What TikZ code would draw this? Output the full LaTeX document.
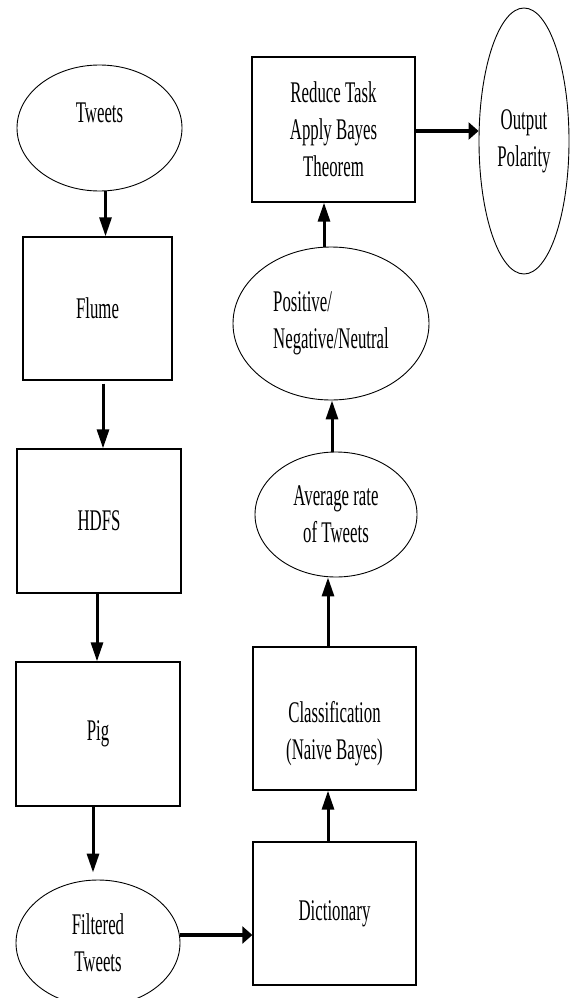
\documentclass[tikz,border=0pt]{standalone}
\usepackage{fontspec}
\setmainfont{Liberation Serif}[FakeStretch=0.56]
\usetikzlibrary{shapes.geometric,arrows.meta}
\begin{document}
\begin{tikzpicture}[x=1pt,y=-1pt,
  every node/.style={font=\fontsize{30}{37}\selectfont, inner sep=0pt, align=center},
  boxnode/.style={draw, line width=1.3pt, rectangle},
  ellnode/.style={draw, line width=0.9pt, ellipse},
  varrow/.style={line width=3pt, -{Triangle[length=19pt,width=12pt]}},
  harrow/.style={line width=4.5pt, -{Triangle[length=10pt,width=17pt]}}]
\useasboundingbox (0,0) rectangle (574,998);
\node[ellnode, minimum width=165pt, minimum height=126pt,
      label={[yshift=15pt]center:Tweets}] (tweets) at (99.5,128) {};
\node[boxnode, minimum width=149pt, minimum height=143pt] (flume) at (97.5,308.5) {Flume};
\node[boxnode, minimum width=164pt, minimum height=144pt] (hdfs) at (99,521) {HDFS};
\node[boxnode, minimum width=164pt, minimum height=144pt] (pig) at (98,734) {Pig};
\node[ellnode, minimum width=164pt, minimum height=126pt] (filtered) at (98,943) {Filtered\\Tweets};
\node[boxnode, minimum width=163pt, minimum height=143pt] (dict) at (334.5,913.5) {Dictionary};
\node[boxnode, minimum width=163pt, minimum height=143pt,
      label={[yshift=-15pt]center:Classification\\(Naive Bayes)}] (class) at (334.5,718.5) {};
\node[ellnode, minimum width=162pt, minimum height=125pt] (average) at (336,514.5) {Average rate\\of Tweets};
\node[ellnode, minimum width=196pt, minimum height=153pt, align=left] (positive) at (331,323.5) {Positive/\\Negative/Neutral};
\node[boxnode, minimum width=163pt, minimum height=145pt] (reduce) at (333.5,129.5) {Reduce Task\\Apply Bayes\\Theorem};
\node[ellnode, minimum width=90pt, minimum height=266pt] (output) at (524,141) {Output\\Polarity};

\draw[varrow] ([xshift=6pt]tweets.south) -- ([xshift=6pt]tweets.south |- flume.north);
\draw[varrow] ([xshift=5.5pt,yshift=-3pt]flume.south) -- ([xshift=5.5pt]flume.south |- hdfs.north);
\draw[varrow] ([xshift=-2pt]hdfs.south) -- ([xshift=-2pt]hdfs.south |- pig.north);
\draw[varrow] ([xshift=-5pt]pig.south) -- ([xshift=-5pt,yshift=7pt]pig.south |- filtered.north);
\draw[harrow] ([yshift=8pt]filtered.east) -- ([yshift=8pt]filtered.east -| dict.west);
\draw[varrow] ([xshift=-6.5pt]dict.north) -- ([xshift=-6.5pt]dict.north |- class.south);
\draw[varrow] ([xshift=-6.5pt]class.north) -- ([xshift=-6.5pt]class.north |- average.south);
\draw[varrow] ([xshift=-4pt]average.north) -- ([xshift=-4pt]average.north |- positive.south);
\draw[varrow] ([xshift=-7pt]positive.north) -- ([xshift=-7pt]positive.north |- reduce.south);
\draw[harrow] ([yshift=-1.5pt]reduce.east) -- ([yshift=-1.5pt]reduce.east -| output.west);
\end{tikzpicture}
\end{document}
